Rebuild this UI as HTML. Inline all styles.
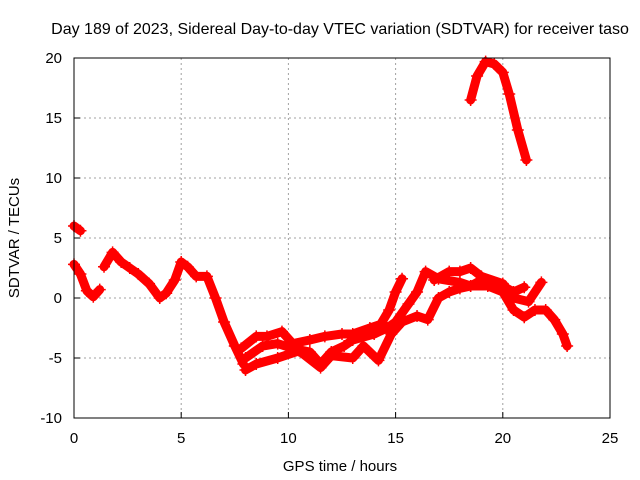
<!DOCTYPE html>
<html><head><meta charset="utf-8"><style>
body{margin:0;background:#fff}
svg{display:block;font-family:"Liberation Sans",sans-serif}
</style></head><body>
<svg id="chart" width="640" height="480">
<text x="340" y="34" font-size="16" text-anchor="middle" fill="#000">Day 189 of 2023, Sidereal Day-to-day VTEC variation (SDTVAR) for receiver taso</text>
<g id="grid"></g>
<g id="axes"></g>
<g id="series"></g>
<rect x="74" y="58" width="536" height="360" fill="none" stroke="#000" stroke-width="1"/>
<text x="340" y="471" font-size="15" text-anchor="middle">GPS time / hours</text>
<text x="19" y="238" font-size="15" text-anchor="middle" transform="rotate(-90 19 238)">SDTVAR / TECUs</text>
</svg>
<script>
const xTicks=[0,5,10,15,20,25];
const yTicks=[-10,-5,0,5,10,15,20];
const trackBlip=[[0,6],[0.3,5.6]];
const trackMain=[[0,2.8],[0.3,2],[0.6,0.6],[0.9,0.1],[1.2,0.7]];
const trackMain2=[[1.4,2.6],[1.8,3.8],[2.2,3],[2.6,2.5],[3,2],[3.5,1.2],[4,0],[4.3,0.4],[4.7,1.5],[5,3],[5.3,2.6],[5.7,1.8],[6.2,1.8],[6.6,0],[7,-2],[7.5,-4],[7.9,-5.5]];
const trackUpper=[[7.8,-4.2],[8.5,-3.2],[9,-3.2],[9.7,-2.8],[10.2,-3.8],[11,-3.5],[11.7,-3.2],[12.5,-3],[13,-3],[13.8,-2.5],[14.3,-2.2],[14.7,-1],[15,0.5],[15.3,1.6]];
const trackMiddle=[[8,-5],[8.8,-4],[9.5,-3.8],[10.2,-4.2],[11,-4.5],[11.5,-5.5],[12,-4.5],[12.6,-4],[13,-3.5],[14,-3],[14.6,-2.5],[15,-2],[15.6,-0.5],[16,0.5],[16.4,2.2],[17,1.6],[18,1.3],[18.5,1],[19,1.5],[19.5,1.3],[20,1],[20.5,0.5],[21,0.9]];
const trackLower=[[8,-6],[8.5,-5.5],[9.5,-5],[10.5,-4.4],[11.5,-5.8],[12,-4.8],[13,-5],[13.5,-4],[14.2,-5.2],[14.8,-3],[15.3,-2],[16,-1.5],[16.5,-1.8],[17,0],[17.5,0.5],[18,0.8],[18.5,1],[19.3,1],[20,0.5],[20.5,-1],[21,-1.6],[21.5,-1],[22,-1],[22.4,-1.8],[22.8,-3],[23,-4]];
const trackLate=[[16.8,1.5],[17.5,2.2],[18,2.2],[18.5,2.5],[19,1.8],[20,1.2],[20.5,0],[21.2,-0.3],[21.8,1.3]];
const trackTop=[[18.5,16.5],[18.8,18.5],[19.2,19.7],[19.6,19.5],[20,18.8],[20.3,17],[20.7,14],[21.1,11.5]];
const tracks=[trackBlip,trackMain,trackMain2,trackUpper,trackMiddle,trackLower,trackLate,trackTop];
const NS="http://www.w3.org/2000/svg";
const X=t=>74+t*536/25, Y=v=>298-v*12;
const grid=document.getElementById('grid'),axes=document.getElementById('axes'),ser=document.getElementById('series');
function mk(tag,at,parent){const e=document.createElementNS(NS,tag);for(const k in at)e.setAttribute(k,at[k]);parent.appendChild(e);return e;}
xTicks.forEach(t=>{
 if(t>0&&t<25){const g=mk('line',{x1:X(t),x2:X(t),y1:58,y2:418,stroke:'#a0a0a0','stroke-dasharray':'2,3'},grid);
 
 }
 const tk=mk('line',{x1:X(t),x2:X(t),y1:418,y2:412,stroke:'#000'},axes);
 
 
 const l=mk('text',{x:X(t),y:443,'font-size':15,'text-anchor':'middle'},axes);l.textContent=t;
 
 
});
yTicks.forEach(v=>{
 if(v>-10&&v<20){const g=mk('line',{x1:74,x2:610,y1:Y(v),y2:Y(v),stroke:'#a0a0a0','stroke-dasharray':'2,3'},grid);
 
 }
 const tk=mk('line',{x1:74,x2:80,y1:Y(v),y2:Y(v),stroke:'#000'},axes);
 
 
 const l=mk('text',{x:62,y:Y(v)+5,'font-size':15,'text-anchor':'end'},axes);l.textContent=v;
 
 
});
tracks.forEach(tr=>{
 const p=mk('polyline',{points:tr.map(d=>X(d[0])+','+Y(d[1])).join(' '),fill:'none',stroke:'#ff0000','stroke-width':9,'stroke-linejoin':'round','stroke-linecap':'round'},ser);
 
 
 tr.forEach(d=>{
  const m=mk('path',{d:`M${X(d[0])-6},${Y(d[1])}h12M${X(d[0])},${Y(d[1])-6}v12`,stroke:'#ff0000','stroke-width':1.5},ser);
  
  
 });
});
</script>
</body></html>
